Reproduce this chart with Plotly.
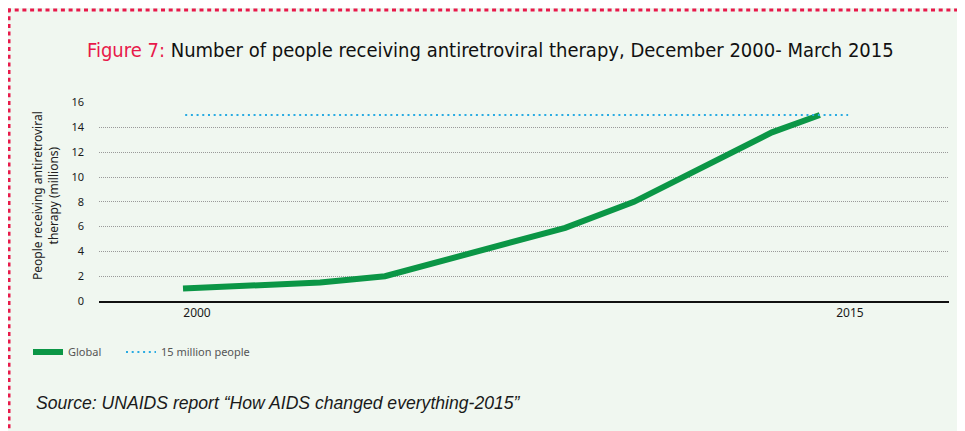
import plotly.graph_objects as go

# ---- data ----
years = [2000.0, 2003.15, 2004.64, 2008.78, 2010.36, 2013.53, 2014.63]
people_millions = [1.0, 1.5, 2.0, 5.9, 8.0, 13.6, 15.0]
target_years = [2000.05, 2015.28]
target_values = [15, 15]
x_tick_vals = [2000, 2015]
x_tick_text = ["2000", "2015"]
y_tick_vals = [0, 2, 4, 6, 8, 10, 12, 14, 16]

OFF = 8  # page body margin
W, H = 965, 431
L, T = 99 - OFF, 102 - OFF
R = W - (949 - OFF)
B = H - (301 - OFF)
pw, ph = W - L - R, H - T - B


def px(xa):
    return (xa - OFF - L) / pw


def py(ya):
    return (H - B - (ya - OFF)) / ph


BG = "#f0f7f0"
RED = "#e8194a"
GREEN = "#0b9646"
BLUE = "#29abe2"
FONT = "Noto Sans"
COND = "DejaVu Sans Condensed"

fig = go.Figure()
fig.add_trace(go.Scatter(
    x=years, y=people_millions, mode="lines", name="Global",
    line=dict(color=GREEN, width=6), legend="legend",
))
fig.add_trace(go.Scatter(
    x=target_years, y=target_values, mode="lines", name="15 million people",
    line=dict(color=BLUE, width=2, dash="2px,3.7px"), legend="legend2",
))

shapes = [
    dict(type="line", xref="paper", yref="paper", x0=px(7), x1=px(W + 5), y0=py(10), y1=py(10),
         line=dict(color=RED, width=3, dash="4px,3.7px")),
    dict(type="line", xref="paper", yref="paper", x0=px(9), x1=px(9), y0=py(8.5), y1=py(H + 20),
         line=dict(color=RED, width=3, dash="4px,3.7px")),
]

annotations = [
    dict(xref="paper", yref="paper", x=px(490), y=py(50), xanchor="center", yanchor="middle",
         showarrow=False,
         text=f"<span style='color:{RED}'>Figure 7:</span> Number of people receiving antiretroviral therapy, December 2000- March 2015",
         font=dict(family=COND, size=20, color="#111111")),
    dict(xref="paper", yref="paper", x=px(45), y=py(196), xanchor="center", yanchor="middle",
         showarrow=False, textangle=-90,
         text="People receiving antiretroviral<br>therapy (millions)",
         font=dict(family=FONT, size=12, color="#222222")),
    dict(xref="paper", yref="paper", x=px(34), y=py(403), xanchor="left", yanchor="middle",
         showarrow=False,
         text="Source: UNAIDS report \u201cHow AIDS changed everything-2015\u201d",
         font=dict(family="Liberation Sans", size=17.6, color="#1a1a1a", style="italic")),
]

legend_common = dict(orientation="h", xanchor="left", yanchor="middle",
                     bgcolor="rgba(0,0,0,0)", font=dict(family=FONT, size=11, color="#555555"))

fig.update_layout(
    width=W, height=H,
    margin=dict(l=L, r=R, t=T, b=B),
    paper_bgcolor=BG, plot_bgcolor="rgba(0,0,0,0)",
    shapes=shapes, annotations=annotations,
    showlegend=True,
    legend=dict(x=px(28), y=py(352), **legend_common),
    legend2=dict(x=px(121), y=py(352), **legend_common),
    xaxis=dict(
        range=[2000 - 84 / 43.53, 2000 + 766 / 43.53],
        tickvals=x_tick_vals, ticktext=x_tick_text, ticklabelshift=14,
        showgrid=False, zeroline=False,
        showline=True, linecolor="#111111", linewidth=1.5,
        ticks="", tickfont=dict(family=FONT, size=12, color="#1a1a1a"),
    ),
    yaxis=dict(
        range=[0, 16.05], tickvals=y_tick_vals,
        showgrid=True, gridcolor="#9a9a9a", gridwidth=1, griddash="1px,1px",
        zeroline=False, showline=False, ticks="",
        ticklabelstandoff=14,
        tickfont=dict(family=FONT, size=11, color="#1a1a1a"),
    ),
)

fig.write_html("out.html")
